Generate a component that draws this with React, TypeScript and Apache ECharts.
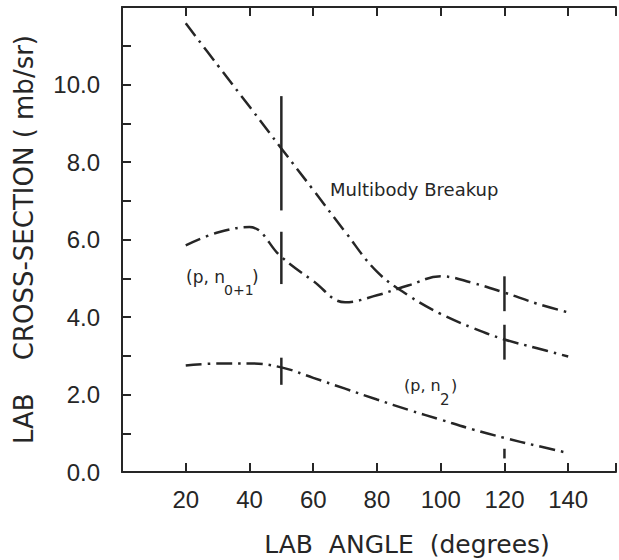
import React, { useEffect, useRef } from 'react';
import * as echarts from 'echarts';

// ---- data ----
const angles = [20, 30, 40, 50, 60, 70, 80, 90, 100, 110, 120, 130, 140];
const multibody = [11.58, 10.5, 9.43, 8.35, 7.28, 6.2, 5.17, 4.55, 4.08, 3.72, 3.42, 3.2, 2.98];
const pn01 = [5.85, 6.18, 6.32, 5.55, 4.93, 4.38, 4.56, 4.82, 5.05, 4.88, 4.63, 4.35, 4.12];
const pn2 = [2.75, 2.8, 2.8, 2.7, 2.43, 2.15, 1.87, 1.6, 1.35, 1.1, 0.88, 0.68, 0.49];

// vertical bars (angle, low, high)
const barAngles = [50, 50, 50, 120, 120, 120];
const barLow = [6.75, 4.85, 2.25, 4.15, 2.9, 0.35];
const barHigh = [9.7, 6.2, 2.95, 5.05, 3.8, 0.6];

const xTicks = [20, 40, 60, 80, 100, 120, 140];
const yTickLabels = ['0.0', '2.0', '4.0', '6.0', '8.0', '10.0'];

const ink = '#262626';
const dashDot = [16, 6, 2.5, 6];

export default function App() {
  const ref = useRef<HTMLDivElement>(null);
  useEffect(() => {
    document.body.style.margin = '0';
    const chart = echarts.init(ref.current!, undefined, { renderer: 'svg' });
    const lineSeries = (name: string, vals: number[]) => ({
      name,
      type: 'line',
      xAxisIndex: 0,
      data: angles.map((a, i) => [a, vals[i]]),
      smooth: 0.4,
      symbol: 'none',
      lineStyle: { color: ink, width: 2.5, type: dashDot },
    });
    const axisCommon = {
      type: 'value',
      min: 0,
      max: 155,
      interval: 20,
      splitLine: { show: false },
      axisLine: { show: true, onZero: false, lineStyle: { color: ink, width: 2 } },
      axisTick: { show: true, inside: true, length: 9, lineStyle: { color: ink, width: 2 } },
    };
    chart.setOption({
      animation: false,
      backgroundColor: '#ffffff',
      grid: { left: 122, right: 0, top: 7, bottom: 88 },
      xAxis: [
        {
          ...axisCommon,
          position: 'bottom',
          axisLabel: {
            color: ink,
            fontFamily: 'Liberation Sans',
            fontSize: 24,
            margin: 15,
            formatter: (v: number) => (xTicks.includes(v) ? String(v) : ''),
          },
        },
        {
          ...axisCommon,
          position: 'top',
          axisLabel: { show: false },
        },
      ],
      yAxis: {
        type: 'value',
        min: 0,
        max: 12,
        interval: 1,
        splitLine: { show: false },
        axisLine: { show: true, lineStyle: { color: ink, width: 2 } },
        axisTick: { show: true, inside: true, length: 9, lineStyle: { color: ink, width: 2 } },
        axisLabel: {
          color: ink,
          fontFamily: 'Liberation Sans',
          fontSize: 24,
          margin: 22,
          formatter: (v: number) => {
            const s = v.toFixed(1);
            return yTickLabels.includes(s) ? s : '';
          },
        },
        name: 'LAB\u00a0\u00a0\u00a0\u00a0CROSS-SECTION\u00a0(\u00a0mb/sr)',
        nameLocation: 'middle',
        nameGap: 85,
        nameTextStyle: { color: ink, fontFamily: 'DejaVu Sans', fontSize: 26 },
      },
      graphic: [
        {
          type: 'text',
          x: 407,
          y: 544,
          style: {
            text: 'LAB\u00a0\u00a0ANGLE\u00a0\u00a0(degrees)',
            font: '25px "DejaVu Sans"',
            fill: ink,
            align: 'center',
            verticalAlign: 'middle',
          },
        },
        {
          type: 'text',
          x: 330,
          y: 189,
          style: { text: 'Multibody Breakup', font: '18px "DejaVu Sans"', fill: ink, align: 'left', verticalAlign: 'middle' },
        },
        {
          type: 'text',
          x: 186,
          y: 277,
          style: { text: '(p,\u00a0n', font: '17px "DejaVu Sans"', fill: ink, align: 'left', verticalAlign: 'middle' },
        },
        {
          type: 'text',
          x: 224,
          y: 290,
          style: { text: '0+1', font: '14px "DejaVu Sans"', fill: ink, align: 'left', verticalAlign: 'middle' },
        },
        {
          type: 'text',
          x: 252,
          y: 277,
          style: { text: ')', font: '17px "DejaVu Sans"', fill: ink, align: 'left', verticalAlign: 'middle' },
        },
        {
          type: 'text',
          x: 404,
          y: 385,
          style: { text: '(p,\u00a0n', font: '16px "DejaVu Sans"', fill: ink, align: 'left', verticalAlign: 'middle' },
        },
        {
          type: 'text',
          x: 440,
          y: 400,
          style: { text: '2', font: '15px "DejaVu Sans"', fill: ink, align: 'left', verticalAlign: 'middle' },
        },
        {
          type: 'text',
          x: 451,
          y: 385,
          style: { text: ')', font: '16px "DejaVu Sans"', fill: ink, align: 'left', verticalAlign: 'middle' },
        },
      ],
      series: [
        lineSeries('Multibody Breakup', multibody),
        lineSeries('(p,n0+1)', pn01),
        lineSeries('(p,n2)', pn2),
        {
          name: 'bars',
          type: 'custom',
          xAxisIndex: 0,
          data: barAngles.map((a, i) => [a, barLow[i], barHigh[i]]),
          encode: { x: 0, y: [1, 2] },
          renderItem: (_params: any, api: any) => {
            const p1 = api.coord([api.value(0), api.value(1)]);
            const p2 = api.coord([api.value(0), api.value(2)]);
            return {
              type: 'line',
              shape: { x1: p1[0], y1: p1[1], x2: p2[0], y2: p2[1] },
              style: { stroke: ink, lineWidth: 2.5 },
            };
          },
        },
      ],
    });
    return () => chart.dispose();
  }, []);
  return <div ref={ref} style={{ width: 619, height: 560 }} />;
}
